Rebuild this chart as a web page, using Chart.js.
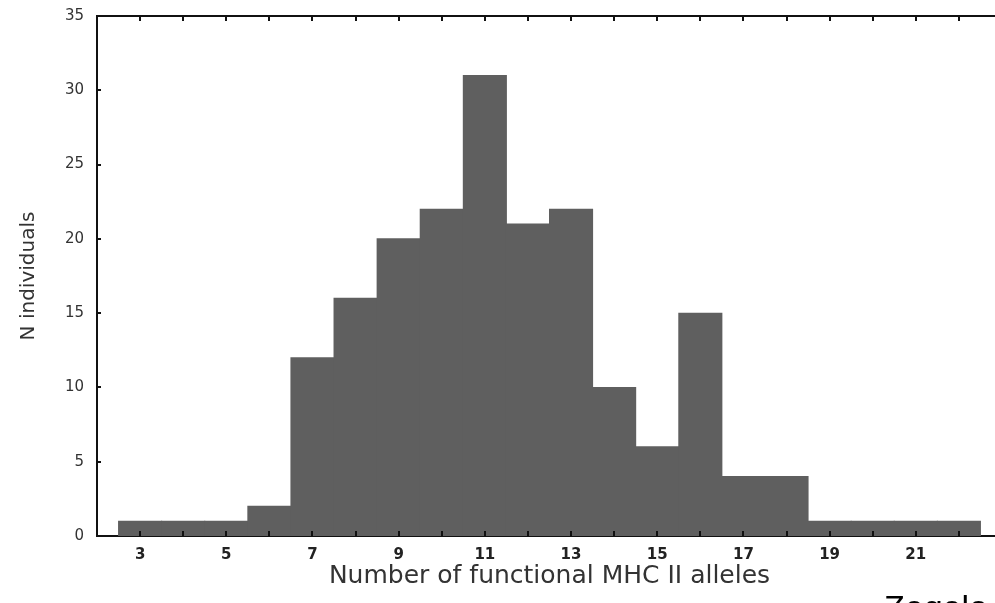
<!DOCTYPE html>
<html>
<head>
<meta charset="utf-8">
<script src="https://cdn.jsdelivr.net/npm/chart.js@4/dist/chart.umd.min.js"></script>
<style>
  html, body { margin: 0; padding: 0; background: #fff; overflow: hidden; width: 995px; height: 603px; }
  #wrap { position: absolute; left: 0; top: 0; width: 1012px; height: 603px; }
  #note { position: absolute; left: 884px; top: 588px; font: 34px "Liberation Sans", Arial, sans-serif; color: #000; white-space: nowrap; }
</style>
</head>
<body>
<div id="wrap"><canvas id="hist"></canvas></div>
<div id="note">Zegelo</div>
<script>
// counts of individuals per number of functional alleles
const alleleCounts = [3, 4, 5, 6, 7, 8, 9, 10, 11, 12, 13, 14, 15, 16, 17, 18, 19, 20, 21, 22];
const individuals = [1, 1, 1, 2, 12, 16, 20, 22, 31, 21, 22, 10, 6, 15, 4, 4, 1, 1, 1, 1];
const yTicks = [0, 5, 10, 15, 20, 25, 30, 35];

const fontFamily = '"DejaVu Sans", Verdana, sans-serif';

// frame on top plus short inward tick marks
const frameTicks = {
  id: 'frameTicks',
  afterDraw(chart) {
    const ctx = chart.ctx;
    const area = chart.chartArea;
    const x = chart.scales.x;
    const y = chart.scales.y;
    ctx.save();
    ctx.strokeStyle = '#111';
    ctx.lineWidth = 2;
    ctx.beginPath();
    ctx.moveTo(area.left - 1, area.top);
    ctx.lineTo(area.right, area.top);
    ctx.stroke();
    ctx.beginPath();
    for (let v = x.min + 1; v < x.max; v++) {
      const px = Math.round(x.getPixelForValue(v));
      ctx.moveTo(px, area.bottom);
      ctx.lineTo(px, area.bottom - 5);
      ctx.moveTo(px, area.top);
      ctx.lineTo(px, area.top + 5);
    }
    yTicks.forEach(v => {
      if (v === 0 || v === 35) return;
      const py = Math.round(y.getPixelForValue(v));
      ctx.moveTo(area.left, py);
      ctx.lineTo(area.left + 4, py);
    });
    ctx.stroke();
    ctx.restore();
  }
};

new Chart(document.getElementById('hist'), {
  type: 'bar',
  data: {
    datasets: [{
      data: alleleCounts.map((a, i) => ({ x: a, y: individuals[i] })),
      backgroundColor: '#5f5f5f',
      borderWidth: 0,
      inflateAmount: 0.5,
      barPercentage: 1,
      categoryPercentage: 1
    }]
  },
  options: {
    responsive: true,
    maintainAspectRatio: false,
    animation: false,
    layout: { padding: { top: 16, right: 2, left: 0, bottom: 0 } },
    plugins: { legend: { display: false }, tooltip: { enabled: false } },
    scales: {
      x: {
        type: 'linear',
        min: 2,
        max: 23,
        offset: false,
        grid: { display: false, drawTicks: false, offset: false },
        border: { display: true, color: '#111', width: 2 },
        afterFit: s => { s.height = 67; },
        ticks: {
          stepSize: 1,
          autoSkip: false,
          maxRotation: 0,
          padding: 10,
          color: '#222',
          font: { family: fontFamily, size: 15, weight: 'bold' },
          callback: v => (v % 2 === 1 && v >= 3 && v <= 21) ? String(v) : ''
        },
        title: {
          display: true,
          text: 'Number of functional MHC II alleles',
          color: '#333',
          font: { family: fontFamily, size: 25 },
          padding: { top: 0, bottom: 12 }
        }
      },
      y: {
        min: 0,
        max: 35,
        grid: { display: false, drawTicks: false },
        border: { display: true, color: '#111', width: 2 },
        afterFit: s => {
          s.width = 97;
          s.paddingTop = 0;
          s.paddingBottom = 0;
        },
        afterBuildTicks: s => { s.ticks = yTicks.map(v => ({ value: v })); },
        ticks: {
          padding: 13,
          color: '#333',
          font: { family: fontFamily, size: 15 }
        },
        title: {
          display: true,
          text: 'N individuals',
          color: '#333',
          font: { family: fontFamily, size: 20 },
          padding: { top: 17, bottom: 0 }
        }
      }
    }
  },
  plugins: [frameTicks]
});
</script>
</body>
</html>
